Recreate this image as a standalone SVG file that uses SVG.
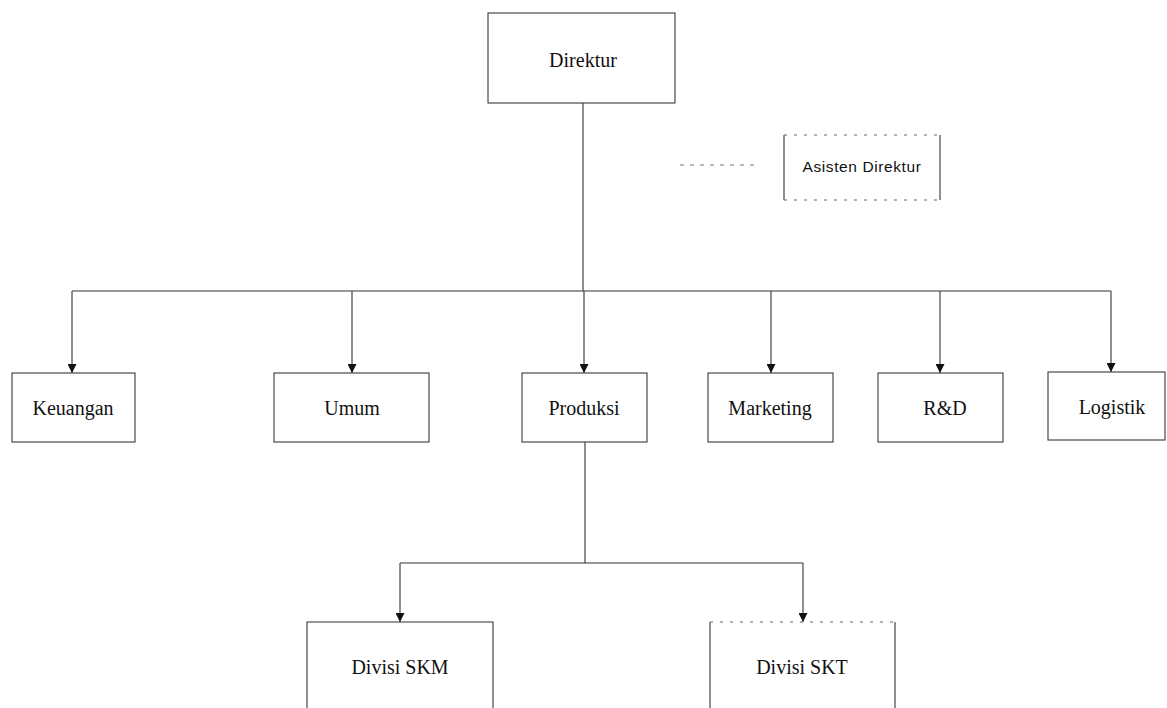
<svg xmlns="http://www.w3.org/2000/svg" width="1167" height="708" viewBox="0 0 1167 708">
<style>
.box{fill:#fff;stroke:#3a3a3a;stroke-width:1.1}
.faint{fill:none;stroke:#666;stroke-width:1;stroke-dasharray:3 7}
.lbl{font-family:"Liberation Serif","Times New Roman",serif;font-size:20px;fill:#111;text-anchor:middle}
.sans{font-family:"Liberation Sans",Arial,sans-serif;font-size:15.5px;letter-spacing:0.6px;fill:#111;text-anchor:middle}
.ln{fill:none;stroke:#333;stroke-width:1.1}
.dot{fill:none;stroke:#777;stroke-width:1;stroke-dasharray:4 6}
</style>
<defs>
<marker id="arr" viewBox="0 0 10 10" refX="10" refY="5" markerWidth="14" markerHeight="9" markerUnits="userSpaceOnUse" orient="auto">
<path d="M0,0 L10,5 L0,10 z" fill="#111"/>
</marker>
</defs>
<rect width="1167" height="708" fill="#fff"/>
<g id="connectors">
<line class="ln" x1="583" y1="103" x2="583" y2="291"/>
<line class="dot" x1="680" y1="165" x2="757" y2="165"/>
<line class="ln" x1="72" y1="291" x2="1111" y2="291"/>
<line class="ln" x1="72" y1="291" x2="72" y2="373" marker-end="url(#arr)"/>
<line class="ln" x1="352" y1="291" x2="352" y2="373" marker-end="url(#arr)"/>
<line class="ln" x1="584" y1="291" x2="584" y2="373" marker-end="url(#arr)"/>
<line class="ln" x1="771" y1="291" x2="771" y2="373" marker-end="url(#arr)"/>
<line class="ln" x1="940" y1="291" x2="940" y2="373" marker-end="url(#arr)"/>
<line class="ln" x1="1111" y1="291" x2="1111" y2="372" marker-end="url(#arr)"/>
<line class="ln" x1="585" y1="442" x2="585" y2="563"/>
<line class="ln" x1="400" y1="563" x2="803" y2="563"/>
<line class="ln" x1="400" y1="563" x2="400" y2="622" marker-end="url(#arr)"/>
<line class="ln" x1="803" y1="563" x2="803" y2="622" marker-end="url(#arr)"/>
</g>
<g id="direktur">
<rect class="box" x="488" y="13" width="187" height="90"/>
<text class="lbl" x="583" y="67">Direktur</text>
</g>
<g id="asisten">
<line class="ln" x1="784" y1="135" x2="784" y2="200"/>
<line class="ln" x1="940" y1="135" x2="940" y2="200"/>
<line class="faint" x1="784" y1="135" x2="940" y2="135"/>
<line class="faint" x1="784" y1="200" x2="940" y2="200"/>
<text class="sans" x="862" y="172">Asisten Direktur</text>
</g>
<g id="keuangan">
<rect class="box" x="12" y="373" width="123" height="69"/>
<text class="lbl" x="73" y="415">Keuangan</text>
</g>
<g id="umum">
<rect class="box" x="274" y="373" width="155" height="69"/>
<text class="lbl" x="352" y="415">Umum</text>
</g>
<g id="produksi">
<rect class="box" x="522" y="373" width="125" height="69"/>
<text class="lbl" x="584" y="415">Produksi</text>
</g>
<g id="marketing">
<rect class="box" x="708" y="373" width="125" height="69"/>
<text class="lbl" x="770" y="415">Marketing</text>
</g>
<g id="rnd">
<rect class="box" x="878" y="373" width="125" height="69"/>
<text class="lbl" x="945" y="415">R&amp;D</text>
</g>
<g id="logistik">
<rect class="box" x="1048" y="372" width="117" height="68"/>
<text class="lbl" x="1112" y="414">Logistik</text>
</g>
<g id="divisi-skm">
<path class="ln" d="M307,708 L307,622 L493,622 L493,708"/>
<text class="lbl" x="400" y="674">Divisi SKM</text>
</g>
<g id="divisi-skt">
<path class="ln" d="M710,708 L710,622"/>
<path class="ln" d="M895,622 L895,708"/>
<line class="faint" x1="710" y1="622" x2="895" y2="622"/>
<text class="lbl" x="802" y="674">Divisi SKT</text>
</g>
</svg>
